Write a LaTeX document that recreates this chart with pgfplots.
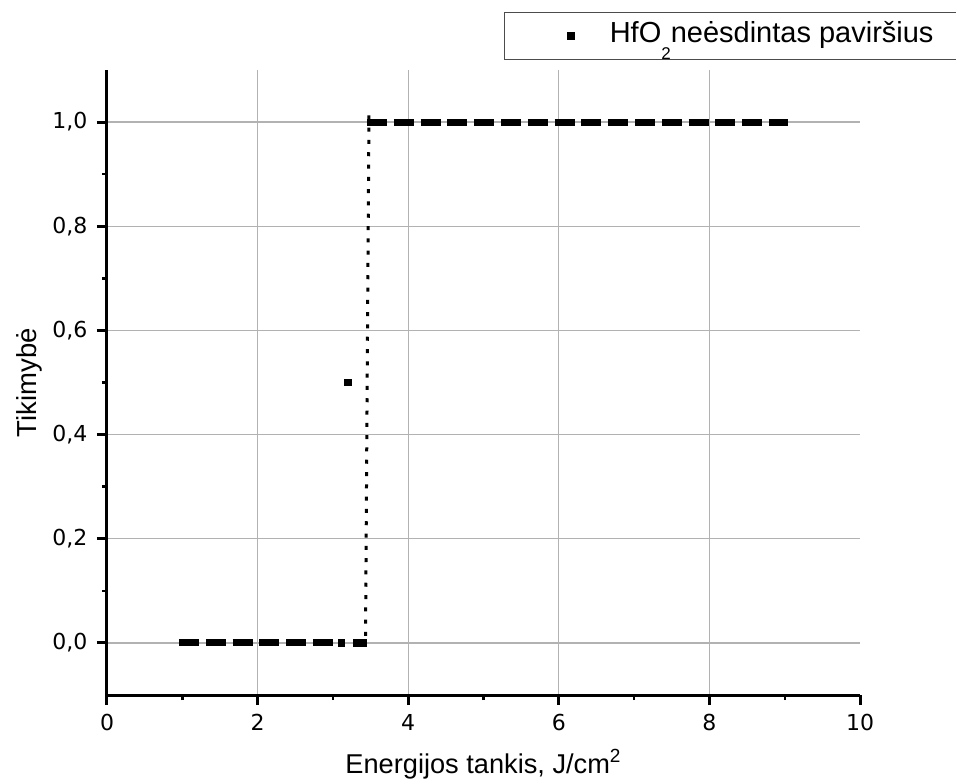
\documentclass[border=0pt]{standalone}
\usepackage{pgfplots}
\pgfplotsset{compat=1.18}
\usepackage{fontspec}
\setmainfont{Liberation Sans}
\newfontfamily\tickfont{DejaVu Sans}

\begin{document}
\begin{tikzpicture}
\path[use as bounding box] (-53.5pt,-43.5pt) rectangle (424.5pt,347.5pt);
\begin{axis}[
  at={(0pt,0pt)}, anchor=south west,
  scale only axis, width=376.5pt, height=312.5pt,
  xmin=0, xmax=10, ymin=-0.1, ymax=1.1,
  axis x line=bottom, axis y line=left,
  axis line style={-, line width=1.5pt, black},
  xtick={0,2,4,6,8}, xticklabels={0,2,4,6,8},
  extra x ticks={10}, extra x tick labels={10}, extra x tick style={grid=none},
  ytick={0,0.2,0.4,0.6,0.8,1.0},
  yticklabels={{0,0},{0,2},{0,4},{0,6},{0,8},{1,0}},
  minor xtick={1,3,5,7,9}, minor ytick={0.1,0.3,0.5,0.7,0.9},
  tick align=outside, major tick length=5pt, minor tick length=2.5pt,
  tick style={black},
  every major tick/.append style={line width=1.5pt},
  every minor tick/.append style={line width=1.2pt},
  grid=major, major grid style={black!30, line width=0.6pt},
  tick label style={font=\tickfont\fontsize{11}{13}\selectfont},
  yticklabel style={xshift=-1.3pt},
  xticklabel style={yshift=-1pt},
  xlabel={Energijos tankis, J/cm\textsuperscript{2}},
  xlabel style={at={(axis description cs:0.5,-0.1248)}, anchor=base, font=\fontsize{13.6}{16}\selectfont},
  ylabel={Tikimybė},
  ylabel style={at={(axis description cs:-0.093,0.5)}, anchor=base, font=\fontsize{13.75}{16}\selectfont},
  legend style={at={(axis description cs:0.5272,1.0928)}, anchor=north west,
    draw=black!70, line width=0.6pt, inner sep=0pt, cells={anchor=center},
    nodes={inner sep=0pt, text height=15pt, text depth=8.5pt},
    font=\fontsize{14.5}{17}\selectfont},
  legend image code/.code={\fill[black] (31.25pt,-1.75pt) rectangle (34.75pt,1.75pt); \path (0pt,0pt) (52pt,0pt);},
]
% individual measured points
\addplot[only marks, mark=square*, mark size=1.55pt, black] coordinates {(3.2,0.5) (3.115,0) (3.307,0) (3.404,0)};
\addlegendentry{HfO\raisebox{-8.5pt}{\fontsize{8.5}{9}\selectfont 2}neėsdintas paviršius\hspace*{30pt}}
% dense runs of points at 0 and 1
\addplot[black, line width=3.5pt, dash pattern=on 10pt off 3.4pt, forget plot] coordinates {(0.956,0) (3.0,0)};
\addplot[black, line width=3.5pt, dash pattern=on 10pt off 3.4pt, forget plot] coordinates {(3.453,1) (9.044,1)};
% transition
\addplot[black, line width=1.5pt, dash pattern=on 2pt off 4.15pt, forget plot] coordinates {(3.433,0.0134) (3.479,1.0154)};
\end{axis}
\end{tikzpicture}
\end{document}
